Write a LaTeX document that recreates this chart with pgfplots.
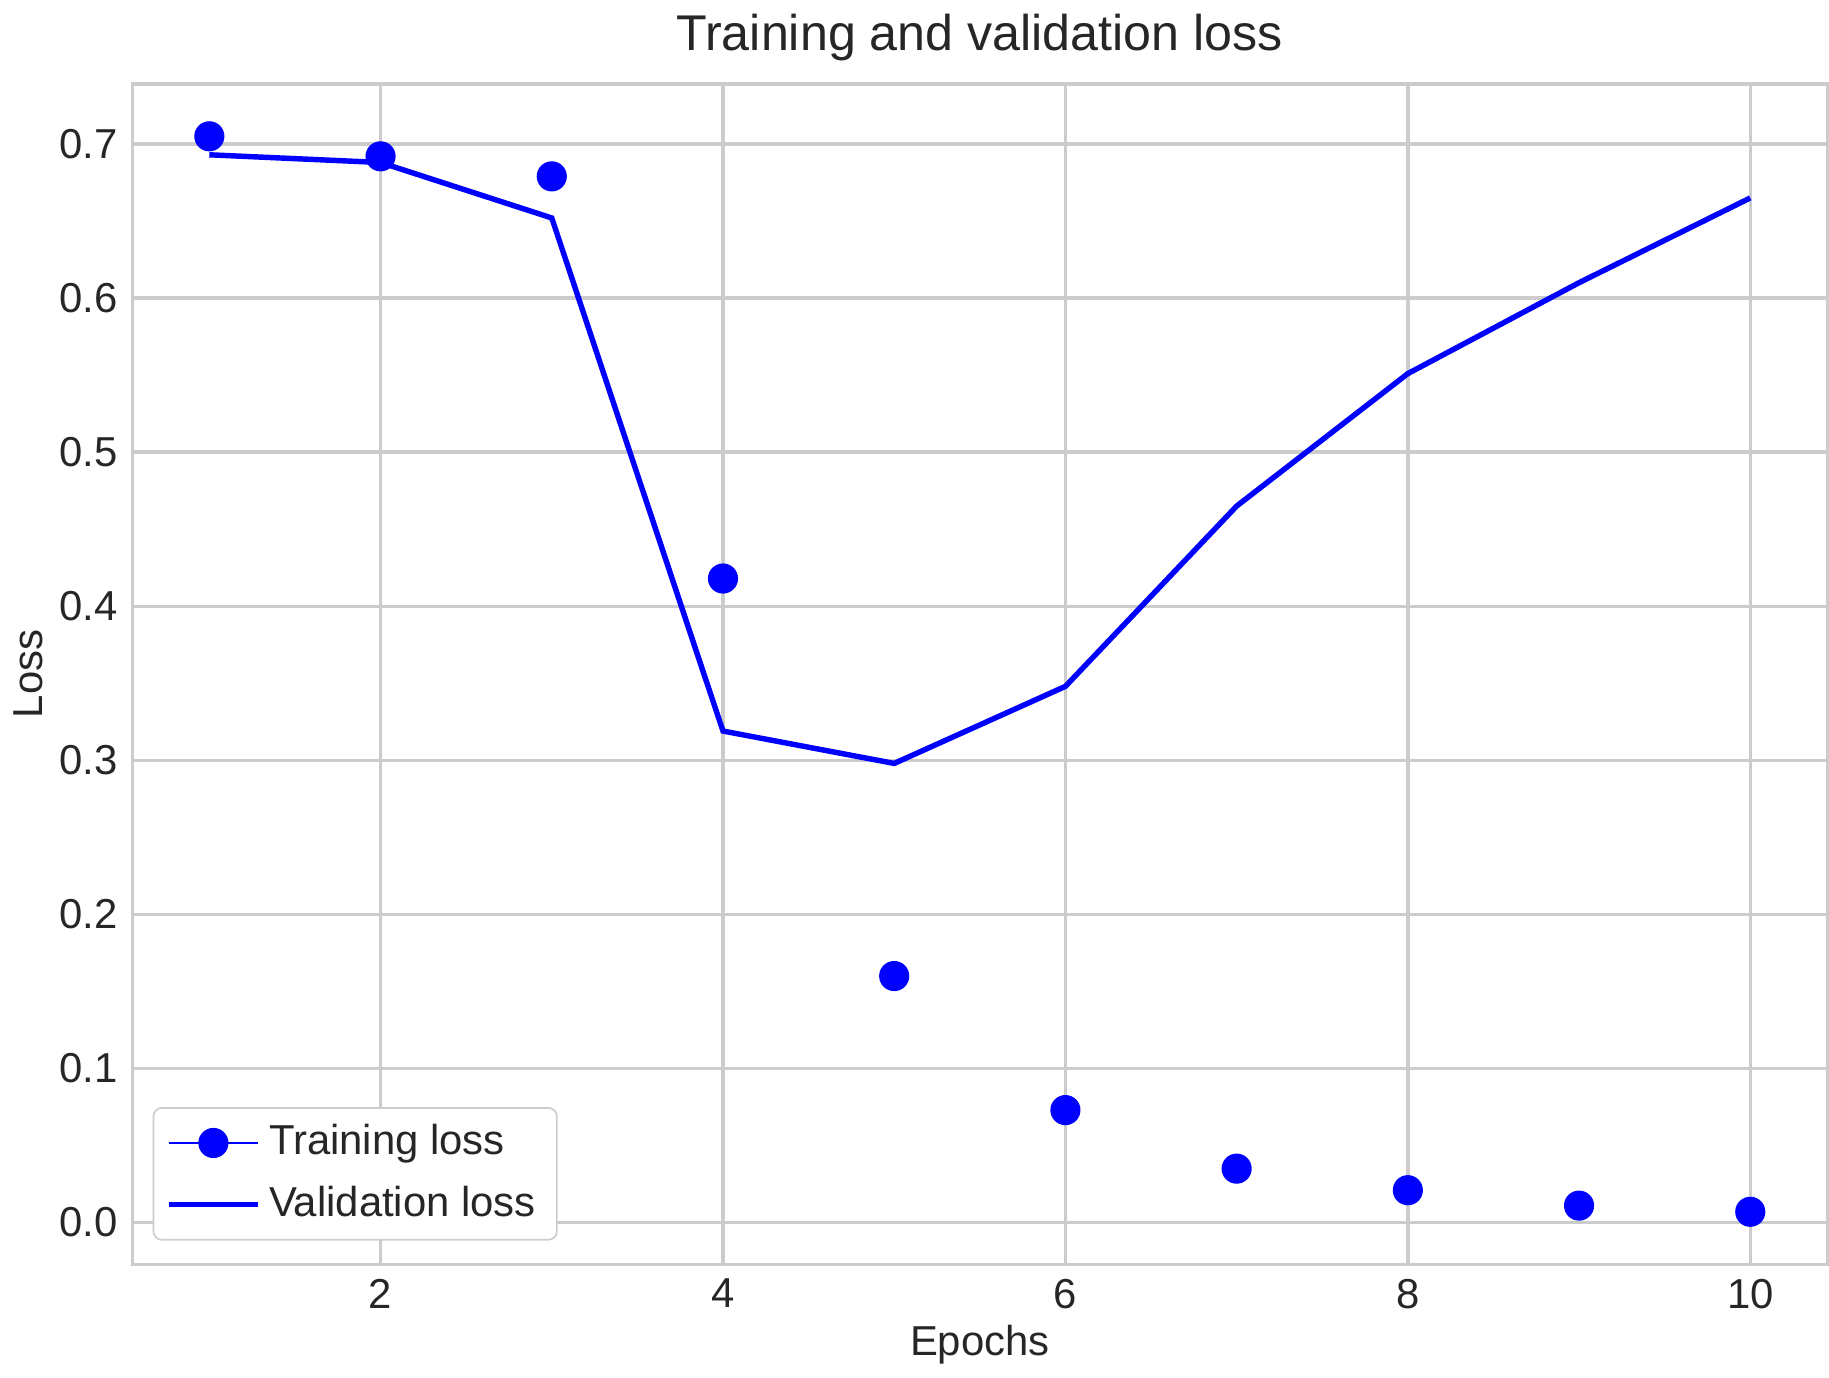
\documentclass[border=0pt]{standalone}
\usepackage{fontspec}
\setmainfont{Liberation Sans}
\usepackage{pgfplots}
\pgfplotsset{compat=1.18}
\definecolor{gridc}{RGB}{204,204,204}
\definecolor{txt}{RGB}{38,38,38}
\begin{document}
\begin{tikzpicture}
\begin{axis}[
  scale only axis, width=405pt, height=282pt,
  xmin=0.55, xmax=10.45, ymin=-0.027, ymax=0.739,
  xtick={2,4,6,8,10}, ytick={0,0.1,...,0.7},
  yticklabel style={/pgf/number format/.cd,fixed,fixed zerofill,precision=1},
  /pgf/number format/assume math mode=true,
  tick style={draw=none},
  grid=major, grid style={gridc, line width=0.8pt},
  axis line style={gridc, line width=0.8pt},
  ticklabel style={font=\fontsize{10}{12}\selectfont, text=txt},
  label style={font=\fontsize{10}{12}\selectfont, text=txt},
  title style={font=\fontsize{12}{14}\selectfont, text=txt, yshift=-4pt},
  title={Training and validation loss},
  xlabel={Epochs}, ylabel={Loss},
  xlabel style={yshift=3pt}, ylabel style={yshift=-3pt},
  legend style={font=\fontsize{10}{12}\selectfont, text=txt, draw=gridc, rounded corners=2pt, fill=white, at={(0.012,0.02)}, anchor=south west, row sep=2pt},
  legend image code/.code={\draw[#1] (0cm,0cm) -- (0.75cm,0cm); \draw[#1,only marks] plot coordinates {(0.375cm,0cm)};},
  legend cell align=left,
]
\addplot[only marks, mark=*, blue, mark size=3.4pt] coordinates {
(1,0.705)(2,0.692)(3,0.679)(4,0.418)(5,0.160)(6,0.073)(7,0.035)(8,0.021)(9,0.011)(10,0.007)};
\addlegendentry{Training loss}
\addplot[blue, line width=1.3pt] coordinates {
(1,0.693)(2,0.688)(3,0.652)(4,0.319)(5,0.298)(6,0.348)(7,0.465)(8,0.551)(9,0.610)(10,0.665)};
\addlegendentry{Validation loss}
\end{axis}
\end{tikzpicture}
\end{document}
